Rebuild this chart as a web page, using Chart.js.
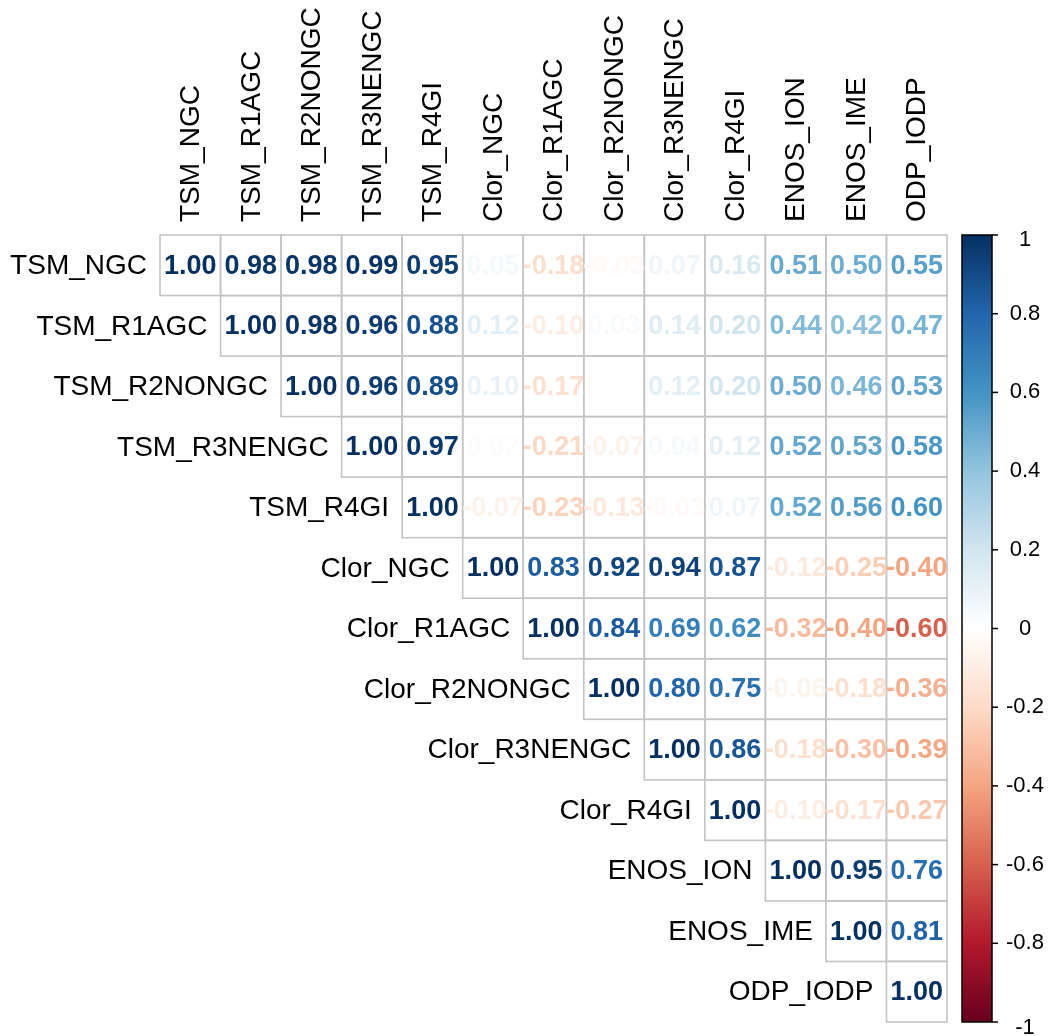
<!DOCTYPE html>
<html>
<head>
<meta charset="utf-8">
<title>Correlation matrix</title>
<script src="https://cdn.jsdelivr.net/npm/chart.js@4.4.1/dist/chart.umd.min.js"></script>
<style>
  body { margin: 0; background: #ffffff; }
  canvas { display: block; }
</style>
</head>
<body>
<canvas id="corr-chart" width="1050" height="1036"></canvas>
<script>
    // variable names, same order for rows and columns
    const labels = ["TSM_NGC", "TSM_R1AGC", "TSM_R2NONGC", "TSM_R3NENGC", "TSM_R4GI",
                    "Clor_NGC", "Clor_R1AGC", "Clor_R2NONGC", "Clor_R3NENGC", "Clor_R4GI",
                    "ENOS_ION", "ENOS_IME", "ODP_IODP"];

    // upper triangle, each row starts at the diagonal
    const rowTsmNgc     = [1.00, 0.98, 0.98, 0.99, 0.95, 0.05, -0.18, -0.03, 0.07, 0.16, 0.51, 0.50, 0.55];
    const rowTsmR1agc   = [1.00, 0.98, 0.96, 0.88, 0.12, -0.10, 0.03, 0.14, 0.20, 0.44, 0.42, 0.47];
    const rowTsmR2nongc = [1.00, 0.96, 0.89, 0.10, -0.17, 0.00, 0.12, 0.20, 0.50, 0.46, 0.53];
    const rowTsmR3nengc = [1.00, 0.97, 0.02, -0.21, -0.07, 0.04, 0.12, 0.52, 0.53, 0.58];
    const rowTsmR4gi    = [1.00, -0.07, -0.23, -0.13, -0.03, 0.07, 0.52, 0.56, 0.60];
    const rowClorNgc    = [1.00, 0.83, 0.92, 0.94, 0.87, -0.12, -0.25, -0.40];
    const rowClorR1agc  = [1.00, 0.84, 0.69, 0.62, -0.32, -0.40, -0.60];
    const rowClorR2nongc= [1.00, 0.80, 0.75, -0.06, -0.18, -0.36];
    const rowClorR3nengc= [1.00, 0.86, -0.18, -0.30, -0.39];
    const rowClorR4gi   = [1.00, -0.10, -0.17, -0.27];
    const rowEnosIon    = [1.00, 0.95, 0.76];
    const rowEnosIme    = [1.00, 0.81];
    const rowOdpIodp    = [1.00];

    const rows = [rowTsmNgc, rowTsmR1agc, rowTsmR2nongc, rowTsmR3nengc, rowTsmR4gi,
                  rowClorNgc, rowClorR1agc, rowClorR2nongc, rowClorR3nengc, rowClorR4gi,
                  rowEnosIon, rowEnosIme, rowOdpIodp];

    // colour legend ticks
    const legendTicks = [1, 0.8, 0.6, 0.4, 0.2, 0, -0.2, -0.4, -0.6, -0.8, -1];
    const legendTickLabels = ["1", "0.8", "0.6", "0.4", "0.2", "0", "-0.2", "-0.4", "-0.6", "-0.8", "-1"];

    // RdBu palette from -1 to 1
    const palette = ["#67001F", "#B2182B", "#D6604D", "#F4A582", "#FDDBC7", "#FFFFFF",
                     "#D1E5F0", "#92C5DE", "#4393C3", "#2166AC", "#053061"];

    function hexToRgb(h) {
        return [parseInt(h.slice(1, 3), 16), parseInt(h.slice(3, 5), 16), parseInt(h.slice(5, 7), 16)];
    }
    function colorFor(v) {
        let t = (v + 1) / 2 * (palette.length - 1);
        let i = Math.min(Math.floor(t), palette.length - 2);
        let f = t - i;
        let a = hexToRgb(palette[i]), b = hexToRgb(palette[i + 1]);
        let c = a.map((x, k) => Math.round(x + (b[k] - x) * f));
        return "rgb(" + c.join(",") + ")";
    }

    // one point per cell
    const points = [];
    rows.forEach((r, i) => {
        r.forEach((v, k) => points.push({ x: i + k, y: i, v: v }));
    });

    const corrPlugin = {
        id: "corrPlot",
        afterDatasetsDraw(chart) {
            const ctx = chart.ctx;
            const xs = chart.scales.x, ys = chart.scales.y, cb = chart.scales.cb;
            const cw = Math.abs(xs.getPixelForValue(1) - xs.getPixelForValue(0));
            const ch = Math.abs(ys.getPixelForValue(1) - ys.getPixelForValue(0));
            const meta = chart.getDatasetMeta(0);
            ctx.save();

            // cell borders
            ctx.strokeStyle = "#C4C4C4";
            ctx.lineWidth = 1.6;
            meta.data.forEach(pt => {
                ctx.strokeRect(pt.x - cw / 2, pt.y - ch / 2, cw, ch);
            });

            // numbers
            ctx.font = "bold 27px 'Liberation Sans', Arial, sans-serif";
            ctx.textAlign = "center";
            ctx.textBaseline = "middle";
            meta.data.forEach((pt, i) => {
                const v = points[i].v;
                ctx.fillStyle = colorFor(v);
                ctx.fillText(v.toFixed(2), pt.x, pt.y + 1);
            });

            // row labels, left of the diagonal
            ctx.font = "28px 'Liberation Sans', Arial, sans-serif";
            ctx.fillStyle = "#000000";
            ctx.textAlign = "right";
            labels.forEach((lab, i) => {
                ctx.fillText(lab, xs.getPixelForValue(i) - cw / 2 - 13, ys.getPixelForValue(i) + 1);
            });

            // column labels on top, rotated
            ctx.textAlign = "left";
            labels.forEach((lab, i) => {
                ctx.save();
                ctx.translate(xs.getPixelForValue(i) + 1, ys.getPixelForValue(0) - ch / 2 - 13);
                ctx.rotate(-Math.PI / 2);
                ctx.fillText(lab, 0, 0);
                ctx.restore();
            });

            // colour legend
            const top = cb.getPixelForValue(1), bottom = cb.getPixelForValue(-1);
            const left = chart.chartArea.right + 15, w = 30;
            const grad = ctx.createLinearGradient(0, bottom, 0, top);
            palette.forEach((c, i) => grad.addColorStop(i / (palette.length - 1), c));
            ctx.fillStyle = grad;
            ctx.fillRect(left, top, w, bottom - top);
            ctx.strokeStyle = "#000000";
            ctx.lineWidth = 1.5;
            ctx.strokeRect(left, top, w, bottom - top);

            ctx.font = "22px 'Liberation Sans', Arial, sans-serif";
            ctx.textAlign = "center";
            ctx.fillStyle = "#000000";
            legendTicks.forEach((t, i) => {
                const y = cb.getPixelForValue(t);
                ctx.beginPath();
                ctx.moveTo(left + w, y);
                ctx.lineTo(left + w + 6, y);
                ctx.stroke();
                let ly = y;
                if (t === 1) ly = y + 5;
                if (t === -1) ly = y + 6;
                ctx.fillText(legendTickLabels[i], left + w + 33, ly);
            });
            ctx.restore();
        }
    };

    new Chart("corr-chart", {
        type: "scatter",
        data: {
            datasets: [{
                data: points,
                pointRadius: 0,
                pointHoverRadius: 0
            }]
        },
        options: {
            responsive: false,
            animation: false,
            layout: { padding: { left: 160, right: 103, top: 235, bottom: 14 } },
            plugins: { legend: { display: false }, tooltip: { enabled: false } },
            scales: {
                x: { type: "linear", min: -0.5, max: labels.length - 0.5, display: false },
                y: { type: "linear", min: -0.5, max: labels.length - 0.5, reverse: true, display: false },
                cb: { type: "linear", axis: "y", position: "right", min: -1, max: 1, display: false }
            }
        },
        plugins: [corrPlugin]
    });
</script>
</body>
</html>
